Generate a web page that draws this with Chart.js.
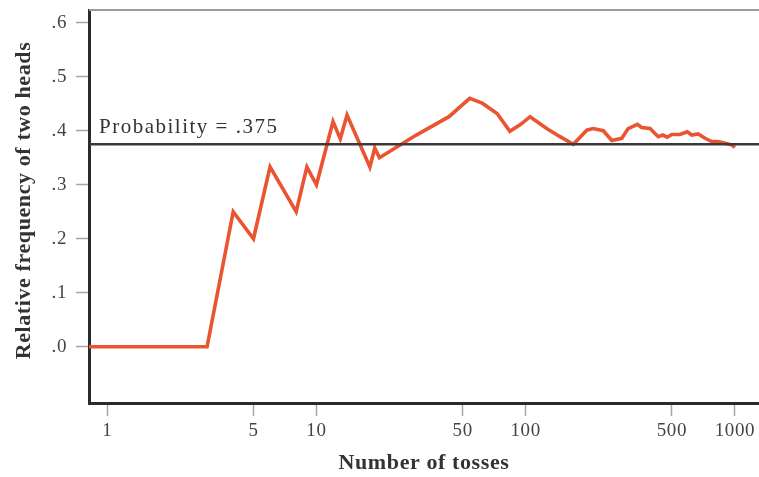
<!DOCTYPE html>
<html>
<head>
<meta charset="utf-8">
<script src="https://cdn.jsdelivr.net/npm/chart.js@4/dist/chart.umd.min.js"></script>
<style>
  html, body { margin: 0; padding: 0; background: #ffffff; }
  canvas { display: block; }
</style>
</head>
<body>
<canvas id="chart" width="759" height="477"></canvas>
<script>
// Number of tosses (log scale) and the running relative frequency of two heads
const tosses = [1, 2, 3, 4, 5, 6, 8, 9, 10, 12, 13, 14, 18, 19, 20, 30, 43, 54, 62, 73,
  84, 94, 105, 126, 146, 169, 196, 210, 235, 258, 288, 309, 342, 358, 393, 430, 452, 475,
  499, 546, 592, 622, 668, 720, 775, 833, 897, 965, 1000];
const relFreq = [0, 0, 0, 0.25, 0.2, 0.333, 0.25, 0.333, 0.3, 0.417, 0.385, 0.429, 0.333,
  0.368, 0.35, 0.392, 0.426, 0.46, 0.451, 0.432, 0.399, 0.411, 0.426, 0.404, 0.389, 0.375,
  0.401, 0.404, 0.4, 0.382, 0.386, 0.404, 0.412, 0.406, 0.404, 0.389, 0.392, 0.388, 0.393,
  0.393, 0.398, 0.392, 0.394, 0.386, 0.38, 0.38, 0.377, 0.374, 0.369];

// Theoretical probability of two heads
const probability = 0.375;

// Axis ticks and ranges
const xTickValues = [1, 5, 10, 50, 100, 500, 1000];
const yTickValues = [0, 0.1, 0.2, 0.3, 0.4, 0.5, 0.6];
const xRange = [0.818, 1304];
const yRange = [-0.104, 0.6235];

const yAxisTitle = 'Relative frequency of two heads';
const xAxisTitle = 'Number of tosses';

const SERIF = '"Liberation Serif", "Times New Roman", serif';
const fmtFraction = v => v.toFixed(v === 0 ? 1 : 3).replace(/0+$/, '').replace(/^0/, '').replace(/\.$/, '.0');

// Series points; the plotted line begins at the left edge of the axis
const freqPoints = [{ x: xRange[0], y: relFreq[0] }]
  .concat(tosses.map((n, i) => ({ x: n, y: relFreq[i] })));

// Slightly open book-style letter spacing for all chart text
const spacingPlugin = {
  id: 'textSpacing',
  beforeDraw(chart) {
    if ('letterSpacing' in chart.ctx) chart.ctx.letterSpacing = '0.6px';
  },
  afterDraw(chart) {
    if ('letterSpacing' in chart.ctx) chart.ctx.letterSpacing = '0px';
  }
};

// Top frame line, vertical axis title and the probability label
const framePlugin = {
  id: 'frameAndLabel',
  afterDraw(chart) {
    const { ctx, chartArea: a } = chart;
    ctx.save();
    ctx.strokeStyle = '#9c9c9c';
    ctx.lineWidth = 2;
    ctx.beginPath();
    ctx.moveTo(a.left, a.top);
    ctx.lineTo(a.right, a.top);
    ctx.stroke();

    // vertical axis title, set a little above the plot's midline
    ctx.save();
    ctx.translate(24, (a.top + a.bottom) / 2 - 6);
    ctx.rotate(-Math.PI / 2);
    ctx.fillStyle = '#333333';
    ctx.font = 'bold 22px ' + SERIF;
    ctx.textAlign = 'center';
    ctx.textBaseline = 'middle';
    if ('letterSpacing' in ctx) ctx.letterSpacing = '0.6px';
    ctx.fillText(yAxisTitle, 0, 0);
    ctx.restore();

    const py = chart.scales.y.getPixelForValue(probability);
    ctx.fillStyle = '#333333';
    ctx.font = '21px ' + SERIF;
    ctx.textAlign = 'left';
    ctx.textBaseline = 'alphabetic';
    if ('letterSpacing' in ctx) ctx.letterSpacing = '1.5px';
    ctx.fillText('Probability = ' + fmtFraction(probability), a.left + 10, py - 11);
    ctx.restore();
  }
};

new Chart(document.getElementById('chart'), {
  type: 'line',
  data: {
    datasets: [
      {
        label: 'Probability',
        data: [{ x: xRange[0], y: probability }, { x: xRange[1], y: probability }],
        borderColor: '#3a3a3a',
        borderWidth: 2.5,
        pointRadius: 0,
        tension: 0
      },
      {
        label: 'Relative frequency',
        data: freqPoints,
        borderColor: '#ea5431',
        borderWidth: 3.6,
        borderJoinStyle: 'miter',
        pointRadius: 0,
        tension: 0
      }
    ]
  },
  options: {
    responsive: false,
    animation: false,
    devicePixelRatio: 1,
    layout: { padding: { left: 0, right: 0, top: 10, bottom: 0 } },
    plugins: {
      legend: { display: false },
      tooltip: { enabled: false }
    },
    scales: {
      x: {
        type: 'logarithmic',
        position: 'bottom',
        min: xRange[0],
        max: xRange[1],
        afterBuildTicks: s => { s.ticks = xTickValues.map(v => ({ value: v })); },
        afterFit: s => { s.height = 74; s.paddingLeft = 0; s.paddingRight = 0; },
        ticks: {
          callback: v => String(v),
          autoSkip: false,
          maxRotation: 0,
          font: { family: SERIF, size: 19 },
          color: '#444444',
          padding: 4
        },
        grid: {
          drawOnChartArea: false,
          drawTicks: true,
          tickLength: 13,
          tickColor: '#a6a6a6',
          tickWidth: 1.5
        },
        border: { display: true, color: '#2b2b2b', width: 3 },
        title: {
          display: true,
          text: xAxisTitle,
          font: { family: SERIF, size: 22, weight: 'bold' },
          color: '#333333',
          padding: 0
        }
      },
      y: {
        type: 'linear',
        position: 'left',
        min: yRange[0],
        max: yRange[1],
        afterBuildTicks: s => { s.ticks = yTickValues.map(v => ({ value: v })); },
        afterFit: s => { s.width = 89; s.paddingTop = 0; s.paddingBottom = 0; },
        ticks: {
          callback: v => fmtFraction(v),
          font: { family: SERIF, size: 19 },
          color: '#444444',
          padding: 9
        },
        grid: {
          drawOnChartArea: false,
          drawTicks: true,
          tickLength: 13,
          tickColor: '#a6a6a6',
          tickWidth: 1.5
        },
        border: { display: true, color: '#2b2b2b', width: 3 },
        title: { display: false }
      }
    }
  },
  plugins: [spacingPlugin, framePlugin]
});
</script>
</body>
</html>
